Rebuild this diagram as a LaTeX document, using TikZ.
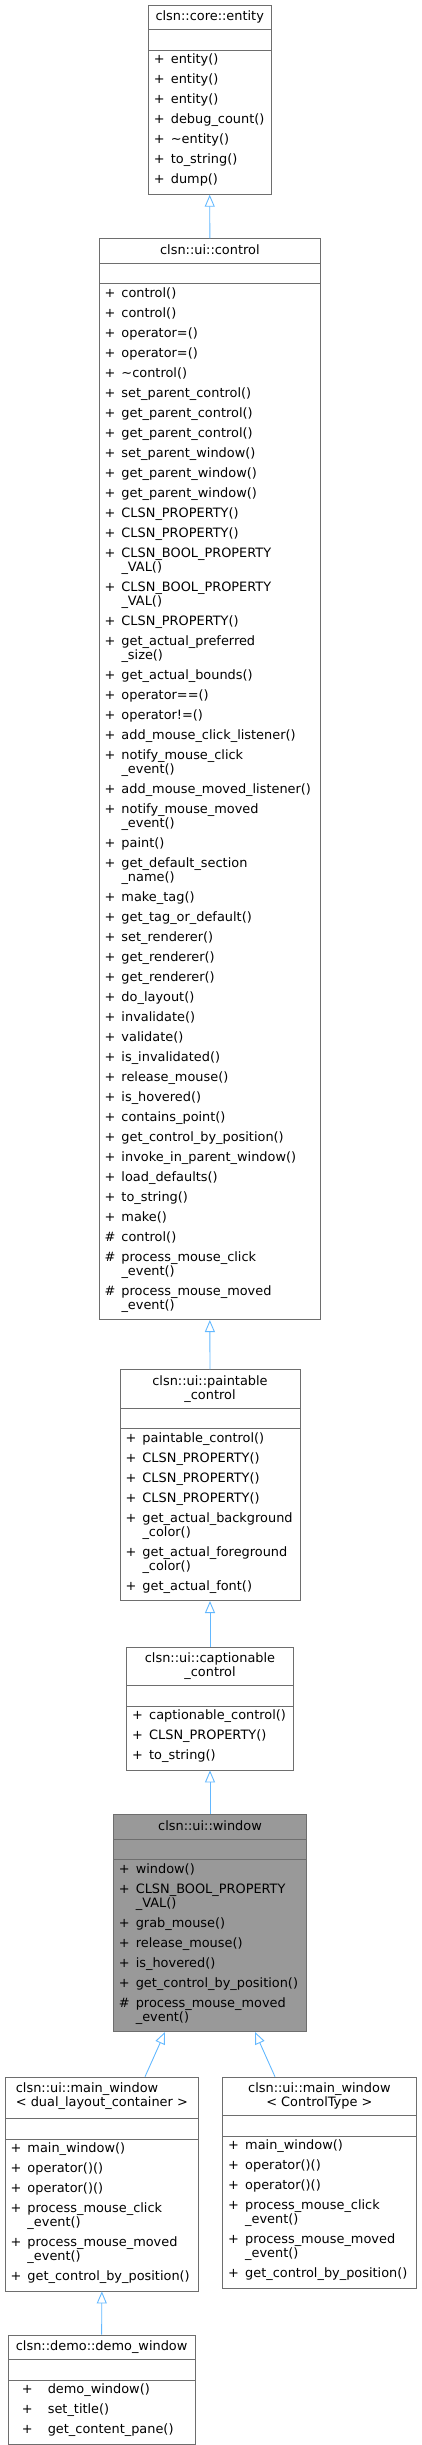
\documentclass[tikz,border=0pt]{standalone}
\usepackage{fontspec}
\setmainfont{DejaVu Sans}
\usetikzlibrary{shapes.multipart,arrows.meta}

\definecolor{edgeblue}{RGB}{99,184,255}
\definecolor{boxgray}{RGB}{110,110,110}
\definecolor{curfill}{RGB}{153,153,153}

% font and row struts of the class boxes
\newcommand{\clsfont}{\fontsize{12.9}{14}\selectfont
  \setbox\strutbox\hbox{\vrule height 11.5pt depth 8.5pt width 0pt}}
\newcommand{\tstrut}{\rule{0pt}{13.5pt}}
\newcommand{\bstrut}{\rule[-7pt]{0pt}{0pt}}
% title compartment of a fixed width
\newcommand{\clstitle}[2]{\parbox[t]{#1}{\centering\tstrut #2\bstrut}}

\tikzset{
  cls/.style={rectangle split, rectangle split parts=3,
    rectangle split part align={center,left,left}, anchor=north,
    draw=boxgray, line width=0.8pt, fill=white,
    inner xsep=3pt, inner ysep=1.5pt, font=\clsfont},
  inh/.style={draw=edgeblue, line width=0.9pt,
    -{Triangle[open,length=12pt,width=10pt]}},
}

\begin{document}
\begin{tikzpicture}[x=1pt,y=1pt]
  \useasboundingbox (0,0) rectangle (421,-2445);

  \node (entity) [cls] at (209.7,-5)
    {\clstitle{116.7pt}{clsn::core::entity}%
     \nodepart{two}\rule{0pt}{17pt}%
     \nodepart{three}%
     \begin{tabular}{@{\hspace{2.5pt}}p{17pt}@{}l@{}}
     + & entity()\\
     + & entity()\\
     + & entity()\\
     + & debug\_count()\\
     + & \textasciitilde entity()\\
     + & to\_string()\\
     + & dump()
     \end{tabular}};

  \node (control) [cls] at (209.85,-238.3)
    {\clstitle{215.7pt}{clsn::ui::control}%
     \nodepart{two}\rule{0pt}{17pt}%
     \nodepart{three}%
     \begin{tabular}{@{\hspace{2.5pt}}p{17pt}@{}l@{}}
     + & control()\\
     + & control()\\
     + & operator=()\\
     + & operator=()\\
     + & \textasciitilde control()\\
     + & set\_parent\_control()\\
     + & get\_parent\_control()\\
     + & get\_parent\_control()\\
     + & set\_parent\_window()\\
     + & get\_parent\_window()\\
     + & get\_parent\_window()\\
     + & CLSN\_PROPERTY()\\
     + & CLSN\_PROPERTY()\\
     + & CLSN\_BOOL\_PROPERTY\\[-6pt]
       & \_VAL()\\
     + & CLSN\_BOOL\_PROPERTY\\[-6pt]
       & \_VAL()\\
     + & CLSN\_PROPERTY()\\
     + & get\_actual\_preferred\\[-6pt]
       & \_size()\\
     + & get\_actual\_bounds()\\
     + & operator==()\\
     + & operator!=()\\
     + & add\_mouse\_click\_listener()\\
     + & notify\_mouse\_click\\[-6pt]
       & \_event()\\
     + & add\_mouse\_moved\_listener()\\
     + & notify\_mouse\_moved\\[-6pt]
       & \_event()\\
     + & paint()\\
     + & get\_default\_section\\[-6pt]
       & \_name()\\
     + & make\_tag()\\
     + & get\_tag\_or\_default()\\
     + & set\_renderer()\\
     + & get\_renderer()\\
     + & get\_renderer()\\
     + & do\_layout()\\
     + & invalidate()\\
     + & validate()\\
     + & is\_invalidated()\\
     + & release\_mouse()\\
     + & is\_hovered()\\
     + & contains\_point()\\
     + & get\_control\_by\_position()\\
     + & invoke\_in\_parent\_window()\\
     + & load\_defaults()\\
     + & to\_string()\\
     + & make()\\
     \# & control()\\
     \# & process\_mouse\_click\\[-6pt]
       & \_event()\\
     \# & process\_mouse\_moved\\[-6pt]
       & \_event()
     \end{tabular}};

  \node (paintable) [cls] at (210,-1369.3)
    {\clstitle{174pt}{clsn::ui::paintable\\\_control}%
     \nodepart{two}\rule{0pt}{17pt}%
     \nodepart{three}%
     \begin{tabular}{@{\hspace{2.5pt}}p{17pt}@{}l@{}}
     + & paintable\_control()\\
     + & CLSN\_PROPERTY()\\
     + & CLSN\_PROPERTY()\\
     + & CLSN\_PROPERTY()\\
     + & get\_actual\_background\\[-6pt]
       & \_color()\\
     + & get\_actual\_foreground\\[-6pt]
       & \_color()\\
     + & get\_actual\_font()
     \end{tabular}};

  \node (captionable) [cls] at (210,-1646.7)
    {\clstitle{160.6pt}{clsn::ui::captionable\\\_control}%
     \nodepart{two}\rule{0pt}{17pt}%
     \nodepart{three}%
     \begin{tabular}{@{\hspace{2.5pt}}p{17pt}@{}l@{}}
     + & captionable\_control()\\
     + & CLSN\_PROPERTY()\\
     + & to\_string()
     \end{tabular}};

  \node (window) [cls, fill=curfill] at (210,-1814.3)
    {\clstitle{187.4pt}{clsn::ui::window}%
     \nodepart{two}\rule{0pt}{17pt}%
     \nodepart{three}%
     \begin{tabular}{@{\hspace{2.5pt}}p{17pt}@{}l@{}}
     + & window()\\
     + & CLSN\_BOOL\_PROPERTY\\[-6pt]
       & \_VAL()\\
     + & grab\_mouse()\\
     + & release\_mouse()\\
     + & is\_hovered()\\
     + & get\_control\_by\_position()\\
     \# & process\_mouse\_moved\\[-6pt]
       & \_event()
     \end{tabular}};

  \node (mainwin) [cls] at (101.85,-2076.7)
    {\parbox[t]{187.7pt}{\centering
       \begin{tabular}[t]{@{}l@{}}
       \tstrut clsn::ui::main\_window\\[-6pt]
       < dual\_layout\_container >\rule[-10pt]{0pt}{0pt}
       \end{tabular}}%
     \nodepart{two}\rule{0pt}{17pt}%
     \nodepart{three}%
     \begin{tabular}{@{\hspace{2.5pt}}p{17pt}@{}l@{}}
     + & main\_window()\\
     + & operator()()\\
     + & operator()()\\
     + & process\_mouse\_click\\[-6pt]
       & \_event()\\
     + & process\_mouse\_moved\\[-6pt]
       & \_event()\\
     + & get\_control\_by\_position()
     \end{tabular}};

  \node (mainwinT) [cls] at (319.35,-2076.7)
    {\clstitle{187.3pt}{clsn::ui::main\_window\\< ControlType >}%
     \nodepart{two}\rule{0pt}{17pt}%
     \nodepart{three}%
     \begin{tabular}{@{\hspace{2.5pt}}p{17pt}@{}l@{}}
     + & main\_window()\\
     + & operator()()\\
     + & operator()()\\
     + & process\_mouse\_click\\[-6pt]
       & \_event()\\
     + & process\_mouse\_moved\\[-6pt]
       & \_event()\\
     + & get\_control\_by\_position()
     \end{tabular}};

  \node (demo) [cls] at (101.65,-2334.7)
    {\clstitle{180.7pt}{clsn::demo::demo\_window}%
     \nodepart{two}\rule{0pt}{17pt}%
     \nodepart{three}%
     \begin{tabular}{@{\hspace{10.5pt}}p{26pt}@{}l@{}}
     + & demo\_window()\\
     + & set\_title()\\
     + & get\_content\_pane()
     \end{tabular}};

  \draw[inh] (control.north) -- (entity.south);
  \draw[inh] (paintable.north) -- (control.south);
  \draw[inh] (captionable.north) -- (paintable.south);
  \draw[inh] (window.north) -- (captionable.south);
  \draw[inh] ([xshift=43.15pt]mainwin.north) -- ([xshift=-45pt]window.south);
  \draw[inh] ([xshift=-44.35pt]mainwinT.north) -- ([xshift=45pt]window.south);
  \draw[inh] (demo.north) -- (mainwin.south);
\end{tikzpicture}
\end{document}
